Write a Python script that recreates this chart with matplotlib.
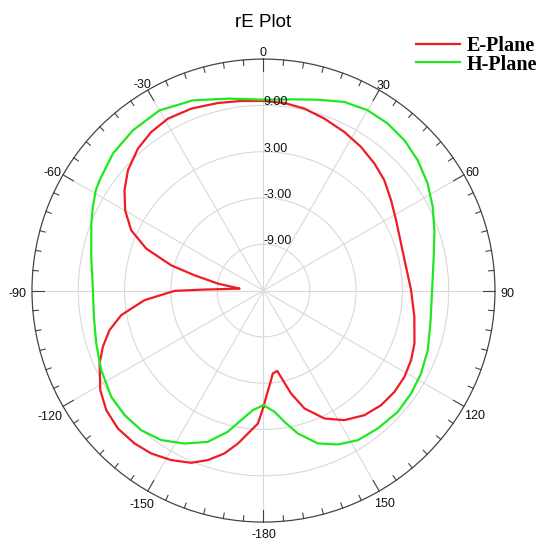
import numpy as np
import matplotlib
matplotlib.use('Agg')
import matplotlib.pyplot as plt
from matplotlib.lines import Line2D

plt.rcParams['font.family'] = ['Liberation Sans', 'DejaVu Sans']

# E-Plane (red) : angle in degrees, gain in dB
e_angles = [-180, -177.6, -175, -170.5, -166.5, -161.8, -157.2, -151.4, -145.4, -139.9,
            -133.5, -127.3, -121.4, -114, -109.3, -104.4, -99.8, -94.6, -90.2, -89, -87,
            -85.2, -81.3, -77.5, -74.7, -70.3, -65.5, -59.9, -54.2, -48.4, -41.5, -35.3,
            -29.1, -21.7, -13.7, -6.7, 0, 6.4, 12.7, 19.5, 27.0, 34.2, 41.2, 47.6, 54.7,
            62.1, 71.1, 80.6, 89.9, 99.9, 109.3, 115.3, 121.5, 127.7, 134.3, 141.0, 148.0,
            154.5, 160.8, 165.0, 167.8, 170.3, 173.6, 175.9, 178, 180]
e_db = [0.07, 2.25, 3.16, 5.10, 6.71, 8.13, 9.21, 10.02, 10.64, 10.92,
        10.99, 10.6, 9.78, 8.25, 7.06, 5.60, 3.71, 0.47, -3.47, -7.36, -10.81,
        -11.88, -9.02, -5.85, -2.60, 1.14, 3.84, 5.72, 7.21, 8.49, 9.56, 10.18,
        10.49, 10.37, 10.02, 9.74, 9.57, 9.46, 9.17, 8.64, 8.07, 7.50, 6.85, 6.21, 5.26,
        4.45, 3.84, 3.73, 4.13, 4.85, 5.73, 6.15, 6.42, 6.46, 6.28, 5.78, 4.80,
        3.37, 1.18, -1.18, -3.12, -4.44, -4.18, -2.92, -1.65, 0.07]

# H-Plane (green)
h_angles = [-180, -174.9, -170.2, -165.8, -159.8, -152.7, -145.6, -138.8, -131.9, -124.9,
            -116.1, -107.6, -98.8, -89.5, -78.9, -73.7, -68.7, -63.9, -59.3, -56.1, -47.7,
            -39.2, -30.0, -20.4, -10.0, 0, 8.2, 15.9, 23.2, 30.05, 36.7, 43.2, 49.8, 56.9,
            63.7, 70.6, 78.8, 89.9, 101.2, 110, 117.8, 124.9, 132.1, 140.4, 147.8, 154.2,
            160.4, 166.5, 170.9, 174.8, 180]
h_db = [-0.15, 0.56, 2.04, 3.88, 5.89, 7.31, 8.48, 9.05, 9.19, 9.06,
        8.42, 7.74, 7.24, 7.11, 7.75, 8.25, 8.95, 9.62, 10.3, 10.6, 11.38,
        11.79, 11.96, 11.3, 10.26, 9.74, 10.04, 10.72, 11.6, 11.99, 11.97, 11.7, 11.17, 10.4,
        9.46, 8.49, 7.49, 6.85, 7.05, 7.65, 8.08, 8.32, 8.45, 8.21, 7.92, 7.15,
        6.03, 4.05, 2.23, 0.78, -0.15]

theta_ticks = [0, 30, 60, 90, 120, 150, 180, 210, 240, 270, 300, 330]
theta_labels = ['0', '30', '60', '90', '120', '150', '-180', '-150', '-120', '-90', '-60', '-30']
r_ticks = [-9, -3, 3, 9]
r_labels = ['-9.00', '-3.00', '3.00', '9.00']
r_min, r_max = -15, 15

series_names = ['E-Plane', 'H-Plane']
series_colors = ['#f01c24', '#1ee81e']

fig = plt.figure(figsize=(5.45, 5.44), dpi=100)
ax = fig.add_axes([0.0587, 0.0403, 0.8495, 0.8511], projection='polar')
ax.set_theta_zero_location('N')
ax.set_theta_direction(-1)
ax.set_ylim(r_min, r_max)

ax.plot(np.deg2rad(e_angles), e_db, color=series_colors[0], lw=1.6, zorder=3)
ax.plot(np.deg2rad(h_angles), h_db, color=series_colors[1], lw=1.6, zorder=3)

ax.set_xticks(np.deg2rad(theta_ticks))
ax.set_xticklabels([])
ax.tick_params(axis='x', which='major', length=0)
ax.set_yticks(r_ticks)
ax.set_yticklabels([])
ax.grid(True, color='#d9d9d9', lw=0.8)
ax.spines['polar'].set_color('#444444')
ax.spines['polar'].set_linewidth(0.9)

# inward tick marks on the outer circle (every 5 deg, long at 30 deg)
px_per_unit = 231.5 / (r_max - r_min)
for a in range(0, 360, 5):
    L = (12 if a % 30 == 0 else 5.5) / px_per_unit
    ax.plot([np.deg2rad(a)] * 2, [r_max - L, r_max], color='#444444', lw=0.8,
            zorder=4, clip_on=False)

# angle labels just outside the circle
fs_tick = 9
em = fs_tick * 100 / 72.0
for a, lab in zip(theta_ticks, theta_labels):
    t = np.deg2rad(a)
    s, c = np.sin(t), np.cos(t)
    hw = sum(0.556 if ch.isdigit() else 0.333 for ch in lab) * em / 2
    hh = 0.716 * em / 2
    d = 5 + hw * abs(s) + hh * abs(c) - 8 * abs(s * c)
    ax.annotate(lab, xy=(t, r_max), xytext=(s * d, c * d - 2.0), textcoords='offset pixels',
                ha='center', va='center_baseline', fontsize=fs_tick, color='#111111',
                annotation_clip=False)

for r, lab in zip(r_ticks, r_labels):
    ax.text(0, r, lab, ha='left', va='baseline', fontsize=9, color='#111111', zorder=4)

fig.text(263 / 545, 1 - 26.7 / 544, 'rE Plot', ha='center', va='baseline', fontsize=13.5)

# legend
W, H = 545, 544
for i, col in enumerate(series_colors):
    yl = 44 + 18 * i
    fig.add_artist(Line2D([416 / W, 460 / W], [1 - yl / H, 1 - yl / H], color=col, lw=1.6,
                          transform=fig.transFigure))
fig.text(466.7 / W, 1 - 36 / H, '\n'.join(series_names), ha='left', va='top',
         fontsize=14.5, fontweight='bold', family=['Liberation Serif'], linespacing=0.9)

fig.savefig('out.png', dpi=100)
